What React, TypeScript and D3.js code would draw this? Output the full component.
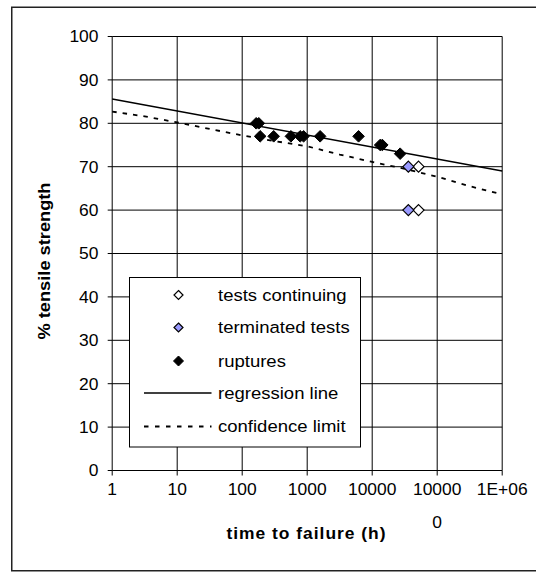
import React from 'react';
import * as d3 from 'd3';

// ---- data ----
const ruptureX = [164, 180, 189, 305, 561, 780, 880, 1580, 6170, 13270, 14300, 26900];
const ruptureY = [80, 80, 77, 77, 77, 77, 77, 77, 77, 75, 75, 73];
const terminatedX = [36000, 36000];
const terminatedY = [70, 60];
const continuingX = [51600, 51600];
const continuingY = [70, 60];
const regressionX = [1, 1000000];
const regressionY = [85.6, 69.0];
const confidenceX = [1, 3.16, 10, 31.6, 100, 316, 1000, 3162, 10000, 31623, 100000, 316228, 1000000];
const confidenceY = [82.7, 81.6, 80.2, 78.7, 77.2, 75.9, 74.7, 72.8, 71.1, 69.5, 67.7, 65.5, 63.6];
const xTicks = [1, 10, 100, 1000, 10000, 100000, 1000000];
const xTickLabels = [["1"], ["10"], ["100"], ["1000"], ["10000"], ["10000", "0"], ["1E+06"]];
const yTicks = [0, 10, 20, 30, 40, 50, 60, 70, 80, 90, 100];
const legendLabels = ["tests continuing", "terminated tests", "ruptures", "regression line", "confidence limit"];

const FONT = "'Liberation Sans', Arial, sans-serif";
const SX = 1.09;

function diamond(cx: number, cy: number, r: number) {
  return `M${cx},${cy - r}L${cx + r},${cy}L${cx},${cy + r}L${cx - r},${cy}Z`;
}

export default function App() {
  const x = d3.scaleLog().domain([1, 1e6]).range([112.2, 502.2]);
  const y = d3.scaleLinear().domain([0, 100]).range([470.5, 36.5]);
  const line = d3
    .line<[number, number]>()
    .x((d) => x(d[0]))
    .y((d) => y(d[1]));

  const regPts = regressionX.map((v, i) => [v, regressionY[i]] as [number, number]);
  const confPts = confidenceX.map((v, i) => [v, confidenceY[i]] as [number, number]);

  const [x0, x1] = x.range();
  const [y0, y1] = y.range();

  const legX = 129.5;
  const legY = 277.5;
  const legRowY = [295, 327.5, 361, 393, 426.5];

  return (
    <svg
      width={536}
      height={572}
      style={{ position: 'absolute', left: 0, top: 0, background: '#fff' }}
      fontFamily={FONT}
    >
      <rect x={0} y={0} width={536} height={572} fill="#fff" />
      {/* outer frame */}
      <rect x={11.75} y={7.25} width={560} height={563.5} fill="none" stroke="#222" strokeWidth={1.5} />

      {/* gridlines */}
      {yTicks.map((t) => (
        <line key={'gy' + t} x1={x0} x2={x1} y1={y(t)} y2={y(t)} stroke="#000" strokeWidth={1} />
      ))}
      {xTicks.map((t) => (
        <line key={'gx' + t} x1={x(t)} x2={x(t)} y1={y0} y2={y1} stroke="#000" strokeWidth={1} />
      ))}

      {/* axes ticks */}
      {yTicks.map((t) => (
        <line key={'ty' + t} x1={x0 - 4.5} x2={x0} y1={y(t)} y2={y(t)} stroke="#000" strokeWidth={1} />
      ))}
      {xTicks.map((t) => (
        <line key={'tx' + t} x1={x(t)} x2={x(t)} y1={y0} y2={y0 + 5} stroke="#000" strokeWidth={1} />
      ))}

      {/* y tick labels */}
      {yTicks.map((t) => (
        <text
          key={'ly' + t}
          transform={`translate(98.5,${y(t) + 5.8}) scale(${SX},1)`}
          textAnchor="end"
          fontSize={16}
          fill="#000"
        >
          {t}
        </text>
      ))}
      {/* x tick labels */}
      {xTicks.map((t, i) =>
        xTickLabels[i].map((s, j) => (
          <text
            key={'lx' + t + '-' + j}
            transform={`translate(${x(t)},${495 + j * 33}) scale(${SX},1)`}
            textAnchor="middle"
            fontSize={16}
            fill="#000"
          >
            {s}
          </text>
        ))
      )}

      {/* axis titles */}
      <text
        transform={`translate(306,539) scale(${SX},1)`}
        textAnchor="middle"
        fontSize={16}
        fontWeight="bold"
        textLength={159 / SX}
        lengthAdjust="spacing"
      >
        time to failure (h)
      </text>
      <text
        transform={`translate(49.5,261) rotate(-90)`}
        textAnchor="middle"
        fontSize={16.5}
        fontWeight="bold"
        textLength={157}
        lengthAdjust="spacingAndGlyphs"
      >
        % tensile strength
      </text>

      {/* lines */}
      <path d={line(regPts) || ''} fill="none" stroke="#000" strokeWidth={1.5} />
      <path d={line(confPts) || ''} fill="none" stroke="#000" strokeWidth={1.8} strokeDasharray="4.5,6" />

      {/* legend */}
      <rect x={legX} y={legY} width={231} height={169.5} fill="#fff" stroke="#000" strokeWidth={1} />
      <path d={diamond(178.5, legRowY[0], 4.5)} fill="#fff" stroke="#000" strokeWidth={1.2} />
      <path d={diamond(178.5, legRowY[1], 4.5)} fill="#9999FF" stroke="#000" strokeWidth={1.2} />
      <path d={diamond(178.5, legRowY[2], 5)} fill="#000" stroke="#000" strokeWidth={1} />
      <line x1={144} x2={211.5} y1={legRowY[3]} y2={legRowY[3]} stroke="#000" strokeWidth={1.5} />
      <line x1={144} x2={211.5} y1={legRowY[4]} y2={legRowY[4]} stroke="#000" strokeWidth={1.8} strokeDasharray="4.5,6.5" />
      {legendLabels.map((s, i) => (
        <text
          key={'leg' + i}
          transform={`translate(218,${legRowY[i] + 5.8}) scale(${SX},1)`}
          fontSize={17}
          fill="#000"
        >
          {s}
        </text>
      ))}

      {/* markers */}
      {continuingX.map((v, i) => (
        <path key={'c' + i} d={diamond(x(v), y(continuingY[i]), 5.5)} fill="#fff" stroke="#000" strokeWidth={1.2} />
      ))}
      {terminatedX.map((v, i) => (
        <path key={'t' + i} d={diamond(x(v), y(terminatedY[i]), 5.5)} fill="#9999FF" stroke="#000" strokeWidth={1.2} />
      ))}
      {ruptureX.map((v, i) => (
        <path key={'r' + i} d={diamond(x(v), y(ruptureY[i]), 5.8)} fill="#000" stroke="#000" strokeWidth={1} />
      ))}
    </svg>
  );
}
